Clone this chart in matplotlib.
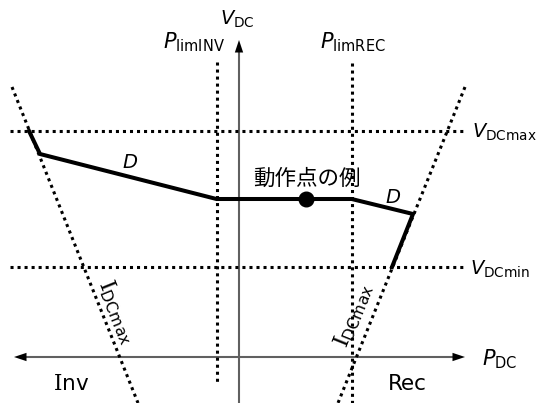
import matplotlib
matplotlib.use("Agg")
import matplotlib.pyplot as plt

plt.rcParams['font.family'] = ['DejaVu Sans', 'Noto Sans CJK JP']
# custom math fonts: sans for rm/it, serif capital I via \mathbf
plt.rcParams['mathtext.fontset'] = 'custom'
plt.rcParams['mathtext.rm'] = 'DejaVu Sans'
plt.rcParams['mathtext.it'] = 'DejaVu Sans:italic'
plt.rcParams['mathtext.bf'] = 'DejaVu Serif'

# schematic P-V plane, origin where the axes cross
vdc_max = 226
vdc_min = 90
p_lim_inv = -22.5
p_lim_rec = 112.7

# constant-current (I_DCmax) boundaries
idc_v = [270, -46]
idc_inv_p = [-227, -101]
idc_rec_p = [226, 99]

# droop characteristic D
d_p = [-210, -199, -22.5, 112.7, 174, 153]
d_v = [226, 203, 158, 158, 143, 90]

# example operating point
op_p, op_v = 67, 158

fig = plt.figure(figsize=(5.39, 4.03), dpi=100)
ax = fig.add_axes([0, 0, 1, 1])
ax.set_xlim(-239, 300)
ax.set_ylim(-46, 357)
ax.axis('off')

dot = dict(color='black', lw=2.2, linestyle=(0, (1, 1.3)))

# axes with arrowheads
ax.plot([-219, 220], [0, 0], color='#606060', lw=1.5)
ax.plot([0, 0], [-46, 310], color='#606060', lw=1.5)
head = dict(arrowstyle='-|>,head_length=0.9,head_width=0.3', color='black',
            lw=0, shrinkA=0, shrinkB=0, mutation_scale=10)
ax.annotate('', xy=(-225, 0), xytext=(-210, 0), arrowprops=head)
ax.annotate('', xy=(226, 0), xytext=(211, 0), arrowprops=head)
ax.annotate('', xy=(0, 317), xytext=(0, 302), arrowprops=head)

# limits
ax.plot([-229, 224], [vdc_max, vdc_max], **dot)
ax.plot([-229, 224], [vdc_min, vdc_min], **dot)
ax.plot([p_lim_inv, p_lim_inv], [295, -25], **dot)
ax.plot([p_lim_rec, p_lim_rec], [294, -46], **dot)
ax.plot(idc_inv_p, idc_v, **dot)
ax.plot(idc_rec_p, idc_v, **dot)

# characteristic and operating point
ax.plot(d_p, d_v, color='black', lw=2.9, solid_joinstyle='miter')
ax.plot(op_p, op_v, 'o', color='black', ms=10.5)

fs = 14
ax.text(-19, 332, r'$V_{\mathrm{DC}}$', fontsize=fs)
ax.text(-76, 309, r'$P_{\mathrm{limINV}}$', fontsize=15)
ax.text(81, 309, r'$P_{\mathrm{limREC}}$', fontsize=15)
ax.text(233, 219, r'$V_{\mathrm{DCmax}}$', fontsize=fs)
ax.text(231, 82, r'$V_{\mathrm{DCmin}}$', fontsize=fs)
ax.text(243, -8, r'$P_{\mathrm{DC}}$', fontsize=15)
ax.text(-186, -33, r'$\mathbf{I}\mathrm{nv}$', fontsize=15.5)
ax.text(149, -33, 'Rec', fontsize=15.5)
ax.text(-117, 189, r'$D$', fontsize=fs)
ax.text(146, 154, r'$D$', fontsize=fs)
ax.text(14, 172, '動作点の例', fontsize=15.5, family=['Noto Sans CJK JP'])
ax.text(-122, 45, r'$\mathbf{I}_{\mathrm{DCmax}}$', fontsize=16, rotation=-68,
        ha='center', va='center', rotation_mode='anchor')
ax.text(115, 42, r'$\mathbf{I}_{\mathrm{DCmax}}$', fontsize=16, rotation=68,
        ha='center', va='center', rotation_mode='anchor')

fig.savefig('out.png', dpi=100)
